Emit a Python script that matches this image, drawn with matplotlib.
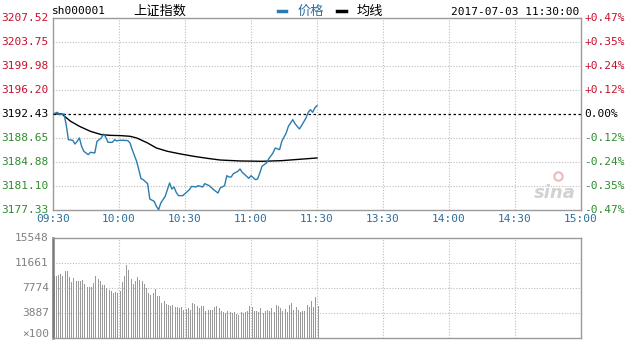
import matplotlib
matplotlib.use("Agg")
import matplotlib.pyplot as plt
import numpy as np

# ---------------- data ----------------
prev_close = 3192.43
price_ticks = [3177.33, 3181.10, 3184.88, 3188.65, 3192.43, 3196.20, 3199.98, 3203.75, 3207.52]
time_ticks = [0, 30, 60, 90, 120, 150, 180, 210, 240]
time_labels = ["09:30", "10:00", "10:30", "11:00", "11:30", "13:30", "14:00", "14:30", "15:00"]

price_min = [0, 2, 3, 5, 6, 7, 9, 10, 11, 12, 13, 14, 16, 17, 19, 20, 22, 23, 24, 25,
             27, 28, 29, 30, 32, 34, 35, 36, 38, 39, 40, 41, 43, 44, 46, 47, 48, 49, 51, 52,
             53, 54, 55, 56, 57, 59, 60, 62, 63, 65, 66, 68, 69, 71, 73, 75, 76, 78, 79, 80,
             81, 82, 84, 85, 86, 88, 89, 90, 92, 93, 94, 95, 97, 98, 100, 101, 103, 104, 106, 107,
             109, 110, 112, 113, 115, 116, 117, 118, 119, 120]
price_val = [3192.43, 3192.69, 3192.33, 3192.43, 3190.75, 3188.39, 3188.29, 3187.71, 3188.13, 3188.66,
             3187.34, 3186.56, 3186.03, 3186.40, 3186.30, 3188.13, 3188.66, 3189.28, 3188.76, 3187.97,
             3187.97, 3188.39, 3188.18, 3188.29, 3188.29, 3188.24, 3187.87, 3186.82, 3184.99, 3183.67,
             3182.26, 3182.10, 3181.47, 3179.06, 3178.69, 3177.91, 3177.38, 3178.43, 3179.48, 3180.53,
             3181.58, 3180.63, 3180.95, 3180.11, 3179.59, 3179.59, 3179.90, 3180.53, 3181.05, 3180.95,
             3181.16, 3180.95, 3181.47, 3181.16, 3180.53, 3180.00, 3180.79, 3181.16, 3182.73, 3182.52,
             3182.52, 3183.05, 3183.41, 3183.78, 3183.26, 3182.63, 3182.31, 3182.73, 3182.10, 3182.21,
             3183.15, 3184.20, 3184.72, 3185.35, 3186.30, 3187.08, 3186.82, 3188.13, 3189.44, 3190.49,
             3191.54, 3190.91, 3190.07, 3190.60, 3191.80, 3192.69, 3193.11, 3192.69, 3193.37, 3193.74]

avg_min = [0, 4, 8, 12, 17, 22, 26, 31, 35, 38, 43, 47, 52, 58, 64, 70, 76, 85, 95, 104, 110, 120]
avg_val = [3192.43, 3192.43, 3191.28, 3190.49, 3189.70, 3189.18, 3189.07, 3189.02, 3188.92, 3188.66,
           3187.87, 3187.08, 3186.56, 3186.14, 3185.77, 3185.46, 3185.19, 3185.04, 3184.99, 3185.09,
           3185.25, 3185.51]

vol_ticks = [3887, 7774, 11661, 15548]
volume = [9583, 9583, 9738, 9946, 9583, 10360, 10360, 9479, 8702, 9324,
          8910, 8806, 8806, 9065, 8392, 7874, 7874, 7874, 8547, 9583,
          9220, 8806, 8288, 8288, 7770, 7511, 7356, 6993, 7148, 6993,
          7252, 8702, 9583, 11292, 10619, 9220, 8392, 8806, 9428, 9065,
          8910, 8392, 7770, 6993, 6630, 6993, 7666, 6475, 6475, 5439,
          5802, 5284, 5180, 4921, 5180, 4766, 4766, 4662, 4766, 4403,
          4558, 4662, 4403, 5439, 5284, 4921, 4662, 4921, 4921, 4248,
          4403, 4403, 4403, 4766, 4921, 4662, 4144, 4040, 3885, 4248,
          4040, 3885, 3989, 3730, 3522, 4040, 3833, 3989, 4144, 4921,
          4766, 4144, 4248, 4040, 4662, 3885, 4248, 4403, 4248, 4662,
          4040, 5180, 4921, 4662, 4248, 4558, 4040, 5180, 5439, 4403,
          4766, 4403, 4040, 4248, 4248, 5180, 4766, 5802, 4766, 6320,
          4921]

# ---------------- style ----------------
RED = "#c8102e"
GREEN = "#2e8b2e"
BLUE = "#2a6f9e"
LINE = "#2b7cae"
GRID = "#bdbdbd"
FRAME = "#9a9a9a"
MONO = "DejaVu Sans Mono"
CJK = ["Noto Sans CJK SC", "DejaVu Sans"]

fig = plt.figure(figsize=(6.25, 3.41), dpi=100)
W, H = 625, 341

def ax_rect(x0, y0, x1, y1):
    return [x0 / W, 1 - y1 / H, (x1 - x0) / W, (y1 - y0) / H]

ax = fig.add_axes(ax_rect(53, 18, 581, 210))
axv = fig.add_axes(ax_rect(53, 238, 581, 338))

# --- price panel ---
ax.set_xlim(0, 240)
ax.set_ylim(price_ticks[0], price_ticks[-1])
for t in time_ticks[1:-1]:
    ax.axvline(t, color=GRID, lw=0.8, ls=(0, (1, 1.5)), zorder=1)
for p in price_ticks[1:-1]:
    if abs(p - prev_close) < 1e-6:
        ax.axhline(p, color="black", lw=0.9, ls=(0, (2, 2)), zorder=2)
    else:
        ax.axhline(p, color=GRID, lw=0.8, ls=(0, (1, 1.5)), zorder=1)

ax.plot(price_min, price_val, color=LINE, lw=1.0, zorder=4)
ax.plot(avg_min, avg_val, color="black", lw=1.0, zorder=3)

ax.set_xticks([])
ax.set_yticks([])
for s in ax.spines.values():
    s.set_color(FRAME)
    s.set_linewidth(1.0)

for p in price_ticks:
    if p > prev_close + 1e-6:
        c = RED
    elif p < prev_close - 1e-6:
        c = GREEN
    else:
        c = "black"
    ax.text(-0.008, p, f"{p:.2f}", transform=ax.get_yaxis_transform(), ha="right", va="center",
            fontsize=8, family=MONO, color=c)
    pct = (p - prev_close) / prev_close * 100
    if abs(pct) < 1e-6:
        lab = "0.00%"
    elif pct > 0:
        lab = f"+{pct:.2f}%"
    else:
        lab = f"-{abs(pct):.2f}%"
    ax.text(1.006, p, lab, transform=ax.get_yaxis_transform(), ha="left", va="center",
            fontsize=8, family=MONO, color=c)

for t, lab in zip(time_ticks, time_labels):
    ax.text(t, -0.045, lab, transform=ax.get_xaxis_transform(), ha="center", va="center",
            fontsize=8, family=MONO, color=BLUE)

# header
fig.text(52 / W, 1 - 11 / H, "sh000001", ha="left", va="center", fontsize=8, family=MONO, color="black")
fig.text(133 / W, 1 - 11 / H, "上证指数", ha="left", va="center", fontsize=9.5, family=CJK, color="black")
fig.add_artist(plt.Line2D([278 / W, 286 / W], [1 - 11 / H, 1 - 11 / H], color=LINE, lw=2.5))
fig.text(298 / W, 1 - 11 / H, "价格", ha="left", va="center", fontsize=9.5, family=CJK, color=BLUE)
fig.add_artist(plt.Line2D([337 / W, 346 / W], [1 - 11 / H, 1 - 11 / H], color="black", lw=2.5))
fig.text(357 / W, 1 - 11 / H, "均线", ha="left", va="center", fontsize=9.5, family=CJK, color="black")
fig.text(579 / W, 1 - 12 / H, "2017-07-03 11:30:00", ha="right", va="center", fontsize=8,
         family=MONO, color="black")

# sina watermark
ax.text(0.99, 0.04, "sina", transform=ax.transAxes, ha="right", va="bottom", fontsize=13,
        style="italic", weight="bold", color="#d2d2d2", zorder=0)
ax.plot([0.957], [0.175], marker="o", ms=6, mfc="none", mec="#f0b8b8", mew=1.5,
        transform=ax.transAxes, zorder=0)

# --- volume panel ---
axv.set_xlim(0, 240)
axv.set_ylim(0, vol_ticks[-1])
for t in time_ticks[1:-1]:
    axv.axvline(t, color=GRID, lw=0.8, ls=(0, (1, 1.5)), zorder=1)
for v in vol_ticks[:-1]:
    axv.axhline(v, color=GRID, lw=0.8, ls=(0, (1, 1.5)), zorder=1)
minutes = np.arange(len(volume)) + 0.5
axv.bar(minutes, volume, width=0.45, color="#999999", zorder=2, align="center")
axv.set_xticks([])
axv.set_yticks([])
for s in axv.spines.values():
    s.set_color(FRAME)
    s.set_linewidth(1.0)
axv.spines["left"].set_color("#7a7a7a")
axv.spines["left"].set_linewidth(1.8)
for v in vol_ticks:
    axv.text(-0.008, v, f"{v}", transform=axv.get_yaxis_transform(), ha="right", va="center",
             fontsize=8, family=MONO, color="#808080")
fig.text(49 / W, 1 - 334 / H, "×100", ha="right", va="center", fontsize=8, family=MONO, color="#808080")

fig.savefig("out.png", dpi=100)
